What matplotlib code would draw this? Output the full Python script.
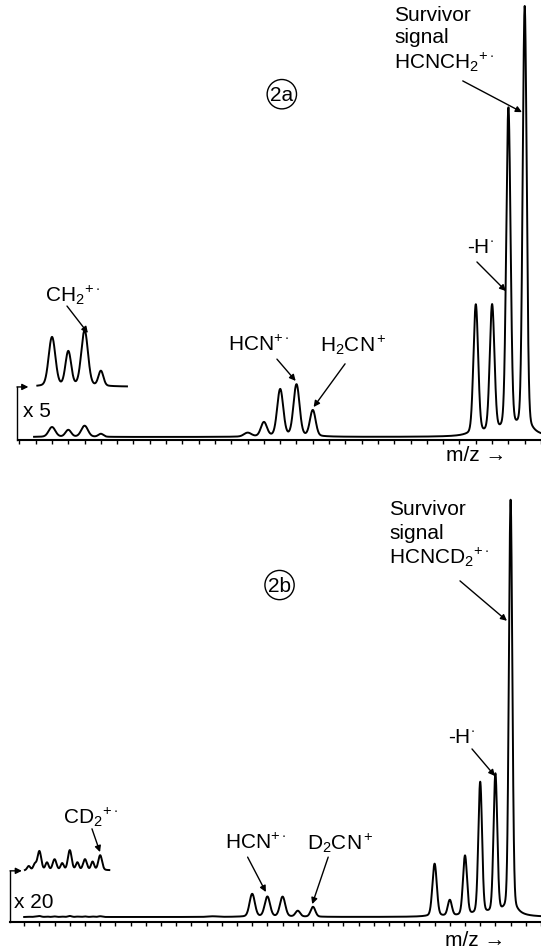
import numpy as np
import matplotlib.pyplot as plt

plt.rcParams['font.family'] = ['Liberation Sans', 'DejaVu Sans']
plt.rcParams['mathtext.fontset'] = 'custom'
plt.rcParams['mathtext.rm'] = 'Liberation Sans'
plt.rcParams['mathtext.it'] = 'Liberation Sans:italic'
plt.rcParams['mathtext.bf'] = 'Liberation Sans:bold'

# spectrum 2a: peak centres (m/z), heights (% of survivor peak), widths (sigma, m/z)
mz_a = [12, 13, 14, 15, 24, 25, 26, 27, 28, 38, 39, 40, 41]
int_a = [2.3, 1.6, 2.6, 0.7, 0.9, 3.3, 11.0, 12.1, 6.1, 30.5, 30.0, 76.0, 100.0]
wid_a = [0.2, 0.17, 0.2, 0.15, 0.22, 0.18, 0.18, 0.18, 0.17, 0.14, 0.14, 0.13, 0.12]

# spectrum 2b
mz_b = [11.3, 11.7, 12, 12.5, 13, 13.5, 14, 14.5, 15, 15.5, 16,
        23.4, 26, 27, 28, 29, 30, 38, 39, 40, 41, 42, 43]
int_b = [0.05, 0.07, 0.23, 0.09, 0.13, 0.08, 0.24, 0.09, 0.13, 0.1, 0.18,
         0.15, 5.5, 4.8, 4.8, 1.4, 2.4, 12.7, 3.8, 14.4, 32.0, 33.7, 100.0]
wid_b = [0.1, 0.1, 0.12, 0.1, 0.12, 0.1, 0.12, 0.1, 0.12, 0.1, 0.12,
         0.3, 0.17, 0.17, 0.17, 0.15, 0.15, 0.14, 0.13, 0.13, 0.12, 0.12, 0.11]


def spectrum(x, centres, heights, widths):
    y = np.zeros_like(x)
    for c, h, s in zip(centres, heights, widths):
        g = np.exp(-0.5 * ((x - c) / s) ** 2)
        lor = 1.0 / (1.0 + ((x - c) / (3 * s)) ** 2)
        y += h * (0.94 * g + 0.06 * lor)
    return y


def arrow(ax, tail, head):
    ax.annotate('', xy=head, xytext=tail,
                arrowprops=dict(arrowstyle='-|>', color='black', lw=1.0,
                                mutation_scale=9, shrinkA=0, shrinkB=0))


FS = 15
LW = 1.4
fig = plt.figure(figsize=(5.41, 9.53), dpi=100)
ax1 = fig.add_axes([0, 1 - 480 / 953, 1, 480 / 953])
ax2 = fig.add_axes([0, 0, 1, 473 / 953])

# ---------------- panel 2a ----------------
x = np.linspace(10.9, 42.0, 6000)
ax1.plot(x, spectrum(x, mz_a, int_a, wid_a), color='black', lw=LW)
xi = np.linspace(11.1, 16.6, 1200)
ax1.plot(xi, 11.7 + 5 * spectrum(xi, mz_a, int_a, wid_a), color='black', lw=LW)
ax1.plot([9.85, 9.85], [-0.7, 11.7], color='black', lw=1.0)
arrow(ax1, (9.85, 11.7), (10.55, 11.7))
ax1.text(10.2, 6.1, 'x 5', fontsize=FS, va='center')

ax1.set_xlim(8.81, 42.0)
ax1.set_ylim(-9.81, 102.34)

ax1.text(33.0, 98.8, 'Survivor', fontsize=FS, va='center')
ax1.text(33.0, 93.5, 'signal', fontsize=FS, va='center')
ax1.text(33.0, 87.9, r'HCNCH$_2$$^{+\cdot}$', fontsize=FS, va='center')
arrow(ax1, (37.2, 83.2), (40.83, 75.9))
ax1.text(38.26, 44.6, r'-H$^{\cdot}$', fontsize=FS, ha='center', va='center')
arrow(ax1, (38.07, 40.9), (39.85, 34.1))
ax1.text(26.1, 80.1, '2a', fontsize=FS, ha='center', va='center',
         bbox=dict(boxstyle='circle,pad=0.15', fc='white', ec='black', lw=1.0))
ax1.text(13.23, 33.4, r'CH$_2$$^{+\cdot}$', fontsize=FS, ha='center', va='center')
arrow(ax1, (12.92, 30.6), (14.2, 24.3))
ax1.text(22.8, 21.7, r'HCN$^{+\cdot}$', fontsize=FS, va='center')
arrow(ax1, (25.8, 18.2), (26.95, 13.1))
ax1.text(28.44, 21.7, r'H$_2$CN$^+$', fontsize=FS, va='center')
arrow(ax1, (29.98, 17.1), (28.05, 7.0))
ax1.text(36.2, -4.0, 'm/z \u2192', fontsize=FS, va='center')

# ---------------- panel 2b ----------------
x = np.linspace(11.0, 45.0, 6000)
ax2.plot(x, spectrum(x, mz_b, int_b, wid_b), color='black', lw=LW)
xi = np.linspace(11.05, 16.6, 1200)
ax2.plot(xi, 11.1 + 20 * spectrum(xi, mz_b, int_b, wid_b), color='black', lw=LW)
ax2.plot([10.07, 10.07], [-1.2, 11.1], color='black', lw=1.0)
arrow(ax2, (10.07, 11.1), (10.85, 11.1))
ax2.text(10.3, 3.8, 'x 20', fontsize=FS, va='center')

ax2.set_xlim(9.41, 45.0)
ax2.set_ylim(-8.41, 105.29)

ax2.text(35.0, 98.1, 'Survivor', fontsize=FS, va='center')
ax2.text(35.0, 92.5, 'signal', fontsize=FS, va='center')
ax2.text(35.0, 86.8, r'HCNCD$_2$$^{+\cdot}$', fontsize=FS, va='center')
arrow(ax2, (39.67, 80.8), (42.76, 71.2))
ax2.text(39.8, 43.3, r'-H$^{\cdot}$', fontsize=FS, ha='center', va='center')
arrow(ax2, (40.46, 40.4), (41.97, 33.9))
ax2.text(27.8, 79.8, '2b', fontsize=FS, ha='center', va='center',
         bbox=dict(boxstyle='circle,pad=0.15', fc='white', ec='black', lw=1.0))
ax2.text(13.55, 24.3, r'CD$_2$$^{+\cdot}$', fontsize=FS, va='center')
arrow(ax2, (15.46, 21.2), (15.99, 15.6))
ax2.text(24.2, 18.0, r'HCN$^{+\cdot}$', fontsize=FS, va='center')
arrow(ax2, (25.7, 14.4), (26.9, 6.0))
ax2.text(29.6, 18.0, r'D$_2$CN$^+$', fontsize=FS, va='center')
arrow(ax2, (31.0, 14.4), (29.95, 3.1))
ax2.text(38.7, -5.4, 'm/z \u2192', fontsize=FS, va='center')

# m/z axes with a tick at every mass unit
for ax, y0, lo, hi in [(ax1, -0.7, 9.9, 42.0), (ax2, -1.2, 10.07, 45.0)]:
    for s in ['top', 'right', 'left']:
        ax.spines[s].set_visible(False)
    ax.spines['bottom'].set_position(('data', y0))
    ax.spines['bottom'].set_bounds(lo, hi)
    ax.spines['bottom'].set_linewidth(1.5)
    ax.set_xticks(np.arange(np.ceil(lo), hi + 0.01, 1))
    ax.tick_params(axis='x', direction='out', length=3, width=1.0, labelbottom=False)
    ax.set_yticks([])
    ax.patch.set_alpha(0)

fig.savefig('out.png', dpi=100)
